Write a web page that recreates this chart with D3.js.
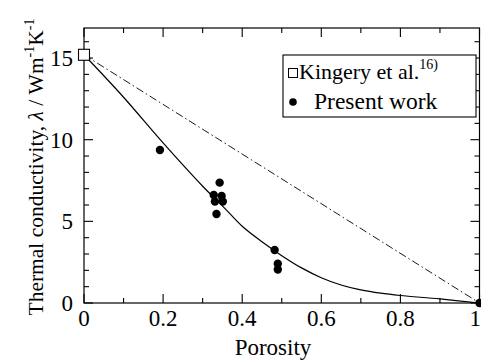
<!DOCTYPE html>
<html><head><meta charset="utf-8">
<script src="https://cdn.jsdelivr.net/npm/d3@7"></script>
<style>
body{margin:0;background:#fff}svg{display:block}
svg text{font-family:"Times New Roman",Times,"Liberation Serif","DejaVu Serif",serif !important}
</style>
</head><body><svg id="c" width="481" height="363"></svg>
<script>
const presentPorosity = [0.192, 0.343, 0.328, 0.348, 0.331, 0.351, 0.335, 0.482, 0.49, 0.49, 1.0];
const presentLambda   = [9.37, 7.37, 6.61, 6.55, 6.21, 6.21, 5.45, 3.25, 2.4, 2.05, 0.0];
const kingeryPorosity = [0.0];
const kingeryLambda   = [15.2];
const fitPorosity = [0, 0.1, 0.2, 0.3, 0.35, 0.4, 0.45, 0.5, 0.55, 0.6, 0.65, 0.7, 0.75, 0.8, 0.9, 1.0];
const fitLambda   = [15.2, 12.6, 9.8, 7.15, 5.95, 4.7, 3.75, 2.9, 2.15, 1.55, 1.1, 0.8, 0.6, 0.46, 0.25, 0.0];
const linePorosity = [0, 1];
const lineLambda = [15.2, 0];
const xTicks = [0, 0.2, 0.4, 0.6, 0.8, 1];
const xTickLabels = ["0", "0.2", "0.4", "0.6", "0.8", "1"];
const yTicks = [0, 5, 10, 15];
const legendLabels = ["Kingery et al.", "Present work"];

const svg = d3.select("#c");
const L = 84, R = 479.5, T = 28, B = 303;
const x = d3.scaleLinear().domain([0, 1]).range([L, R]);
const y = d3.scaleLinear().domain([0, 16.84]).range([B, T]);

svg.append("rect").attr("x", L).attr("y", T).attr("width", R - L).attr("height", B - T)
  .attr("fill", "none").attr("stroke", "#000").attr("stroke-width", 1.2);

const xMinor = d3.range(0, 1.0001, 0.1);
const yMinor = d3.range(0, 16.5, 1);
const tg = svg.append("g").attr("stroke", "#000").attr("stroke-width", 1.1);
xMinor.forEach(v => {
  const major = xTicks.some(t => Math.abs(t - v) < 1e-6);
  const len = major ? 9 : 5;
  tg.append("line").attr("x1", x(v)).attr("x2", x(v)).attr("y1", B).attr("y2", B - len);
  tg.append("line").attr("x1", x(v)).attr("x2", x(v)).attr("y1", T).attr("y2", T + len);
});
yMinor.forEach(v => {
  const major = yTicks.includes(v);
  const len = major ? 9 : 5;
  tg.append("line").attr("y1", y(v)).attr("y2", y(v)).attr("x1", L).attr("x2", L + len);
  tg.append("line").attr("y1", y(v)).attr("y2", y(v)).attr("x1", R).attr("x2", R - len);
});

xTicks.forEach((v, i) => {
  svg.append("text").attr("x", v === 1 ? 481 : x(v)).attr("y", 326)
    .attr("text-anchor", v === 1 ? "end" : "middle")
    .attr("font-size", 23).text(xTickLabels[i]);
});
yTicks.forEach(v => {
  svg.append("text").attr("x", 73).attr("y", y(v) + 8).attr("text-anchor", "end")
    .attr("font-size", 23).text(v);
});

svg.append("text").attr("x", 273).attr("y", 355).attr("text-anchor", "middle")
  .attr("font-size", 23).text("Porosity");
const yl = svg.append("text").attr("transform", "translate(43,167) rotate(-90)")
  .attr("text-anchor", "middle").attr("font-size", 21.5);
yl.append("tspan").text("Thermal conductivity, ");
yl.append("tspan").attr("font-style", "italic").text("λ");
yl.append("tspan").text(" / Wm");
yl.append("tspan").attr("dy", -9).attr("font-size", 14).text("-1");
yl.append("tspan").attr("dy", 9).text("K");
yl.append("tspan").attr("dy", -9).attr("font-size", 14).text("-1");

svg.append("path").datum(linePorosity.map((p, i) => [p, lineLambda[i]]))
  .attr("d", d3.line().x(d => x(d[0])).y(d => y(d[1])))
  .attr("fill", "none").attr("stroke", "#000").attr("stroke-width", 0.9)
  .attr("stroke-dasharray", "8,3,1.5,3");

svg.append("path").datum(fitPorosity.map((p, i) => [p, fitLambda[i]]))
  .attr("d", d3.line().curve(d3.curveCatmullRom.alpha(0.5)).x(d => x(d[0])).y(d => y(d[1])))
  .attr("fill", "none").attr("stroke", "#000").attr("stroke-width", 1.2);

svg.append("g").selectAll("circle").data(presentPorosity.map((p, i) => [p, presentLambda[i]]))
  .join("circle").attr("cx", d => x(d[0])).attr("cy", d => y(d[1])).attr("r", 4.2).attr("fill", "#000");

svg.append("g").selectAll("rect").data(kingeryPorosity.map((p, i) => [p, kingeryLambda[i]]))
  .join("rect").attr("x", d => x(d[0]) - 5.5).attr("y", d => y(d[1]) - 5.5)
  .attr("width", 11).attr("height", 11).attr("fill", "#fff").attr("stroke", "#000").attr("stroke-width", 1.1);

const lg = svg.append("g");
lg.append("rect").attr("x", 283).attr("y", 55).attr("width", 193).attr("height", 62)
  .attr("fill", "#fff").attr("stroke", "#000").attr("stroke-width", 1.1);
lg.append("rect").attr("x", 288.5).attr("y", 68.5).attr("width", 9).attr("height", 9)
  .attr("fill", "#fff").attr("stroke", "#000").attr("stroke-width", 1);
const t1 = lg.append("text").attr("x", 299).attr("y", 79).attr("font-size", 22);
t1.append("tspan").text(legendLabels[0]);
t1.append("tspan").attr("dy", -10).attr("font-size", 14).text("16)");
lg.append("circle").attr("cx", 293).attr("cy", 102).attr("r", 3.8).attr("fill", "#000");
lg.append("text").attr("x", 314).attr("y", 109).attr("font-size", 23.5).text(legendLabels[1]);
</script></body></html>
